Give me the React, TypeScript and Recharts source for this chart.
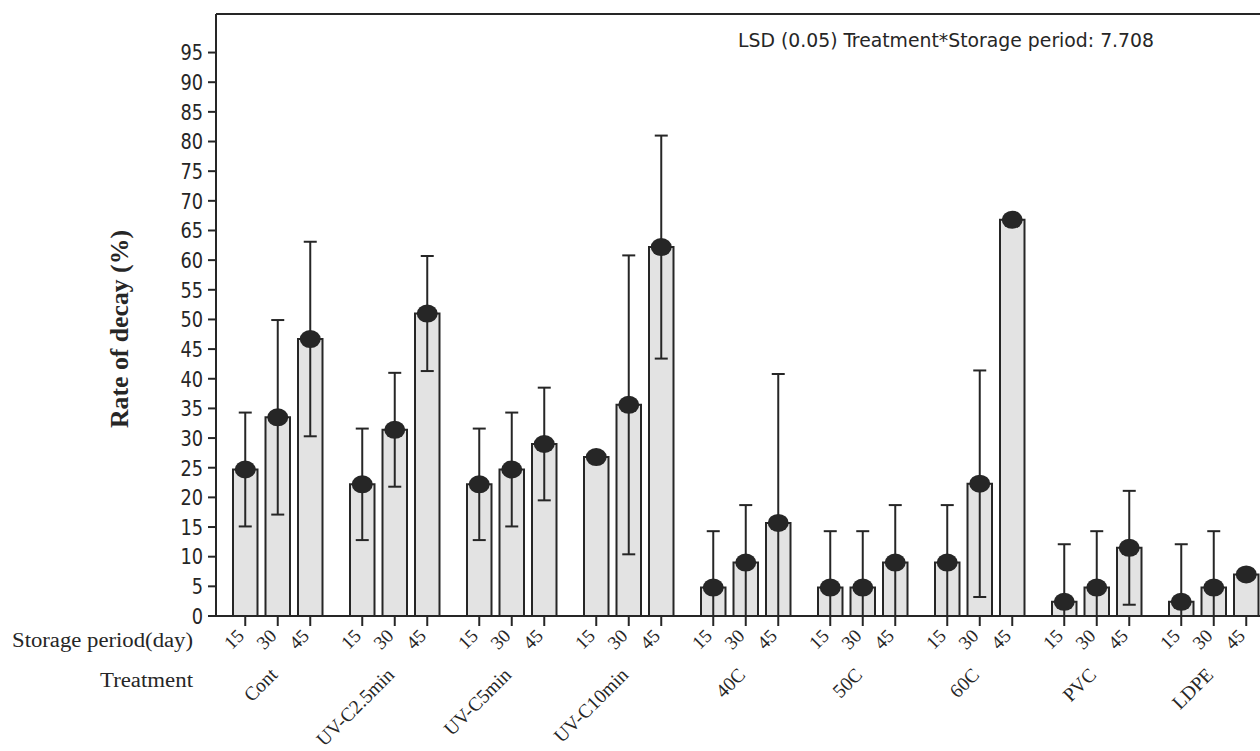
import { BarChart, Bar, XAxis, YAxis, ErrorBar, LabelList, ReferenceLine } from 'recharts'

const TREATMENTS = ['Cont', 'UV-C2.5min', 'UV-C5min', 'UV-C10min', '40C', '50C', '60C', 'PVC', 'LDPE']
const PERIODS = ['15', '30', '45']

// rate of decay (%) per storage period
const DECAY_15 = [24.7, 22.2, 22.2, 26.8, 4.8, 4.8, 9.0, 2.4, 2.4]
const DECAY_30 = [33.5, 31.4, 24.7, 35.6, 9.0, 4.8, 22.3, 4.8, 4.8]
const DECAY_45 = [46.7, 51.0, 29.0, 62.2, 15.7, 9.0, 66.8, 11.5, 7.0]

// error bar half-lengths
const ERR_15 = [9.6, 9.4, 9.4, 0, 9.5, 9.5, 9.7, 9.7, 9.7]
const ERR_30 = [16.4, 9.6, 9.6, 25.2, 9.7, 9.5, 19.1, 9.5, 9.5]
const ERR_45 = [16.4, 9.7, 9.5, 18.8, 25.1, 9.7, 0, 9.6, 0]

const Y_TICKS = [0, 5, 10, 15, 20, 25, 30, 35, 40, 45, 50, 55, 60, 65, 70, 75, 80, 85, 90, 95]
const Y_MAX = 101.5

const INK = '#262626'
const BAR_FILL = '#e3e3e3'
const SERIF = '"Liberation Serif", "Times New Roman", serif'
const SANS = '"DejaVu Sans Condensed", "DejaVu Sans", sans-serif'

const data = TREATMENTS.map((name, i) => ({
  name,
  d15: DECAY_15[i],
  d30: DECAY_30[i],
  d45: DECAY_45[i],
  e15: ERR_15[i],
  e30: ERR_30[i],
  e45: ERR_45[i],
}))

const SERIES = [
  { key: 'd15', err: 'e15', period: PERIODS[0] },
  { key: 'd30', err: 'e30', period: PERIODS[1] },
  { key: 'd45', err: 'e45', period: PERIODS[2] },
]

// dot on top of the bar, tick mark and period label under it
function barMarks(period: string) {
  return (props: any) => {
    const vb = props.viewBox ?? props
    const { x, y, width, height } = vb
    const cx = x + width / 2
    const base = y + height
    const ly = base + 21
    return (
      <g>
        <ellipse cx={cx} cy={y} rx={10.5} ry={9} fill={INK} />
        <line x1={cx} y1={base} x2={cx} y2={base + 10} stroke={INK} strokeWidth={2} />
        <text
          x={cx}
          y={ly}
          textAnchor="end"
          transform={`rotate(-45 ${cx} ${ly})`}
          fontFamily={SERIF}
          fontSize={19}
          fill={INK}
        >
          {period}
        </text>
      </g>
    )
  }
}

function TreatmentTick({ x, y, payload }: any) {
  const tx = x + 1
  const ty = y + 60
  return (
    <text
      x={tx}
      y={ty}
      textAnchor="end"
      transform={`rotate(-45 ${tx} ${ty})`}
      fontFamily={SERIF}
      fontSize={19.5}
      fill={INK}
    >
      {payload.value}
    </text>
  )
}

function ValueTick({ x, y, payload }: any) {
  const s = String(payload.value)
  return (
    <text
      x={x}
      y={y}
      dy="0.38em"
      textAnchor="end"
      fontFamily={SANS}
      fontSize={20.5}
      fill={INK}
      textLength={s.length * 11.3}
      lengthAdjust="spacingAndGlyphs"
    >
      {s}
    </text>
  )
}

export default function App() {
  return (
    <div
      style={{
        position: 'fixed',
        left: 0,
        top: 0,
        width: 1260,
        height: 751,
        overflow: 'hidden',
        background: '#fff',
      }}
    >
      <BarChart
        width={1280}
        height={751}
        data={data}
        margin={{ top: 14, right: 8, bottom: 0, left: 0 }}
        barSize={24.5}
        barGap={8}
      >
        <XAxis
          dataKey="name"
          height={135}
          interval={0}
          padding={{ left: 3, right: 0 }}
          tickLine={false}
          tickSize={0}
          tickMargin={0}
          axisLine={{ stroke: INK, strokeWidth: 2 }}
          tick={<TreatmentTick />}
        />
        <YAxis
          width={216}
          domain={[0, Y_MAX]}
          ticks={Y_TICKS}
          interval={0}
          tickSize={8}
          tickMargin={5}
          tickLine={{ stroke: INK, strokeWidth: 2 }}
          axisLine={{ stroke: INK, strokeWidth: 2 }}
          tick={<ValueTick />}
        />
        <ReferenceLine y={Y_MAX} stroke={INK} strokeWidth={2} />
        {SERIES.map((s) => (
          <Bar
            key={s.key}
            dataKey={s.key}
            fill={BAR_FILL}
            stroke={INK}
            strokeWidth={2}
            isAnimationActive={false}
          >
            <ErrorBar
              dataKey={(d: any) => [Math.min(d[s.err], d[s.key]), d[s.err]]}
              direction="y"
              width={6.5}
              stroke={INK}
              strokeWidth={2}
            />
            <LabelList dataKey={s.key} content={barMarks(s.period)} />
          </Bar>
        ))}
      </BarChart>
      <svg
        width={1260}
        height={751}
        style={{ position: 'absolute', left: 0, top: 0, pointerEvents: 'none' }}
      >
        <text
          x={738}
          y={47}
          fontFamily={SANS}
          fontSize={19}
          fill={INK}
          textLength={416}
          lengthAdjust="spacingAndGlyphs"
        >
          LSD (0.05) Treatment*Storage period: 7.708
        </text>
        <text
          x={128}
          y={329}
          transform="rotate(-90 128 329)"
          textAnchor="middle"
          fontFamily={SERIF}
          fontWeight="bold"
          fontSize={25}
          fill={INK}
          textLength={198}
          lengthAdjust="spacingAndGlyphs"
        >
          Rate of decay (%)
        </text>
        <text
          x={12}
          y={647}
          fontFamily={SERIF}
          fontSize={20}
          fill={INK}
          textLength={181}
          lengthAdjust="spacingAndGlyphs"
        >
          Storage period(day)
        </text>
        <text
          x={100}
          y={687}
          fontFamily={SERIF}
          fontSize={20}
          fill={INK}
          textLength={93}
          lengthAdjust="spacingAndGlyphs"
        >
          Treatment
        </text>
      </svg>
    </div>
  )
}
